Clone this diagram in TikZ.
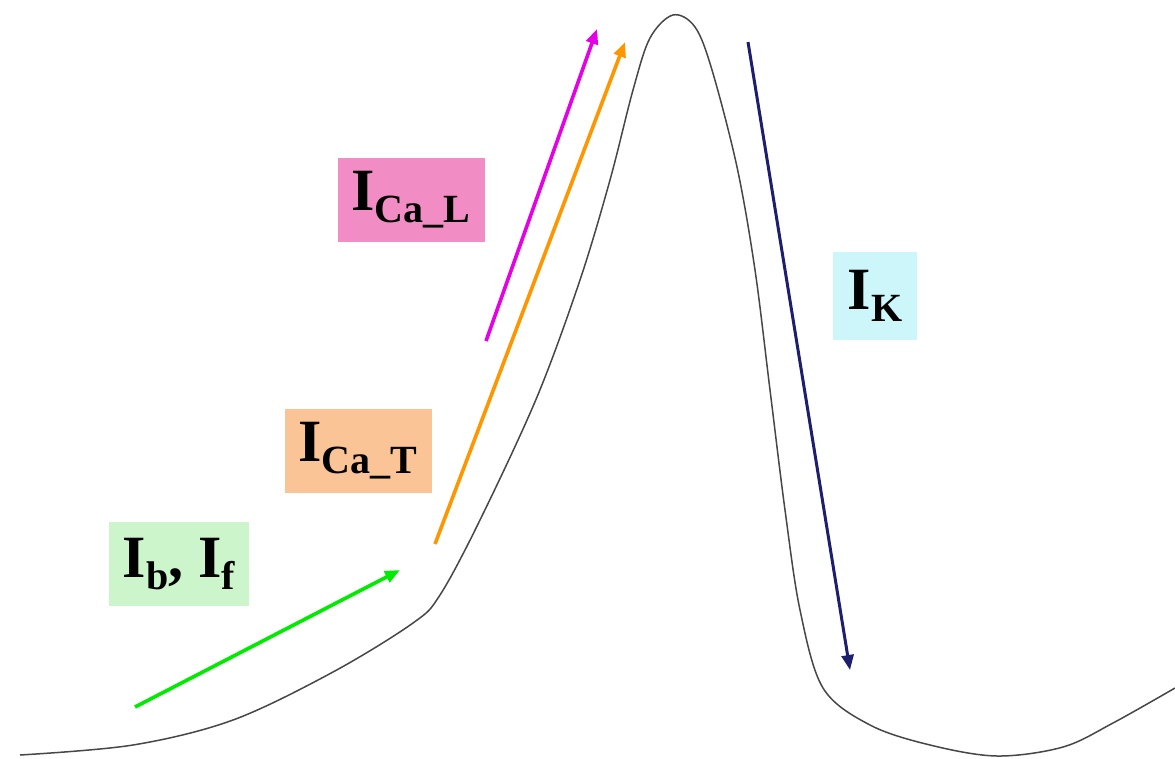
\documentclass[tikz,border=0pt]{standalone}
\usepackage{fontspec}
\setmainfont{Liberation Serif}
\usetikzlibrary{arrows.meta}

\definecolor{pinkbox}{RGB}{242,140,196}
\definecolor{peachbox}{RGB}{250,196,150}
\definecolor{greenbox}{RGB}{204,245,204}
\definecolor{cyanbox}{RGB}{204,246,250}
\definecolor{greenarr}{RGB}{0,235,0}
\definecolor{orangearr}{RGB}{255,150,0}
\definecolor{magentaarr}{RGB}{230,0,230}
\definecolor{navyarr}{RGB}{30,30,110}

\newcommand{\curr}[2]{#1\raisebox{-12pt}{\fontsize{40}{40}\selectfont #2}}

\begin{document}
\begin{tikzpicture}[
        x=1pt, y=-1pt,
        label/.style={rectangle, inner sep=0pt, minimum height=84pt, align=center,
            font=\fontsize{60}{60}\selectfont\bfseries},
        current/.style={line width=3.6pt, -{Triangle[length=15pt, width=12pt]}},
        trace/.style={black!72, line width=1.5pt}
    ]
    \useasboundingbox (0,0) rectangle (1175,758);

    % action potential
    \draw[trace] plot[smooth, tension=0.55] coordinates {
        (20,755) (133,745) (233,720) (333,672) (413,623) (440,595)
        (480,520) (537,397) (580,280) (610,180) (633,90) (650,38)
        (673,15) (695,27) (712,70) (737,167) (755,270) (770,390)
        (785,510) (800,610) (823,688) (870,725) (930,745) (997,756)
        (1063,747) (1113,723) (1175,688)};

    \node[label, fill=pinkbox, minimum width=147pt] (caL) at (411,200) {\curr{I}{Ca\_L}};
    \node[label, fill=peachbox, minimum width=147pt] (caT) at (358,451) {\curr{I}{Ca\_T}};
    \node[label, fill=greenbox, minimum width=140pt] (bf) at (179,564) {\curr{I}{b}, \curr{I}{f}};
    \node[label, fill=cyanbox, minimum width=84pt, minimum height=88pt] (k) at (875,296) {\curr{I}{K}};

    \coordinate (bfS) at (135,707);
    \coordinate (bfE) at (400,570);
    \coordinate (caTS) at (435,544);
    \coordinate (caTE) at (625,42);
    \coordinate (caLS) at (486,341);
    \coordinate (caLE) at (597,29);
    \coordinate (kS) at (748,42);
    \coordinate (kE) at (850,670);

    \draw[current, greenarr] (bfS) -- (bfE);
    \draw[current, orangearr] (caTS) -- (caTE);
    \draw[current, magentaarr] (caLS) -- (caLE);
    \draw[current, navyarr, line width=3pt] (kS) -- (kE);

\end{tikzpicture}
\end{document}
